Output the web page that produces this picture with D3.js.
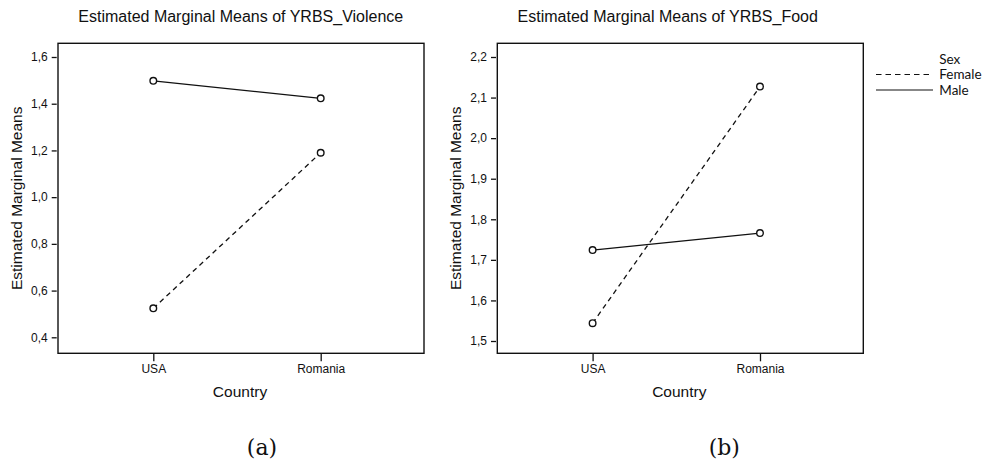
<!DOCTYPE html>
<html>
<head>
<meta charset="utf-8">
<script src="https://cdn.jsdelivr.net/npm/d3@7"></script>
<style>
  html, body { margin: 0; padding: 0; background: #fff; }
  svg { display: block; }
</style>
</head>
<body>
<svg id="chart" width="988" height="462"></svg>
<script>
// ---- data ----
const countries = ["USA", "Romania"];
const sexes = ["Female", "Male"];
const violenceFemale = [0.524, 1.190];
const violenceMale = [1.498, 1.423];
const foodFemale = [1.544, 2.127];
const foodMale = [1.724, 1.766];
const violenceTicks = [0.4, 0.6, 0.8, 1.0, 1.2, 1.4, 1.6];
const foodTicks = [1.5, 1.6, 1.7, 1.8, 1.9, 2.0, 2.1, 2.2];
const titles = ["Estimated Marginal Means of YRBS_Violence", "Estimated Marginal Means of YRBS_Food"];
const captions = ["(a)", "(b)"];
const yTitle = "Estimated Marginal Means";
const xTitle = "Country";
const legendTitle = "Sex";

const svg = d3.select("#chart");
const fmt = d => d3.format(".1f")(d).replace(".", ",");
const dashes = { Female: "5,4", Male: null };

function panel(opts) {
  const { left, title, caption, female, male, ticks, yDomain, yRange, captionX } = opts;
  const top = 43.3, bottom = 353.3, right = left + 366;
  const g = svg.append("g");
  const x = d3.scalePoint().domain(countries).range([left + 95.3, left + 262.7]);
  const y = d3.scaleLinear().domain(yDomain).range(yRange);

  // title
  g.append("text").attr("x", left + 20.3).attr("y", 22)
    .attr("font-family", "Liberation Sans, Arial, sans-serif").attr("font-size", 16)
    .attr("fill", "#111").text(title);

  // box
  g.append("rect").attr("x", left).attr("y", top).attr("width", right - left).attr("height", bottom - top)
    .attr("fill", "none").attr("stroke", "#111").attr("stroke-width", 1.4);

  // y axis
  const ya = g.append("g").attr("transform", `translate(${left - 1.3},0)`)
    .call(d3.axisLeft(y).tickValues(ticks).tickFormat(fmt).tickSize(5).tickPadding(4));
  ya.select(".domain").remove();
  ya.selectAll("line").attr("stroke", "#111").attr("stroke-width", 1.3);
  ya.selectAll("text").attr("font-family", "Liberation Sans, Arial, sans-serif").attr("font-size", 12).attr("fill", "#111");

  // x axis
  const xa = g.append("g").attr("transform", `translate(0,${bottom})`)
    .call(d3.axisBottom(x).tickSize(8).tickPadding(3));
  xa.select(".domain").remove();
  xa.selectAll("line").attr("stroke", "#111").attr("stroke-width", 1.3);
  xa.selectAll("text").attr("font-family", "Liberation Sans, Arial, sans-serif").attr("font-size", 12).attr("fill", "#111");

  // axis titles
  g.append("text").attr("x", left + 182).attr("y", 397)
    .attr("text-anchor", "middle").attr("font-family", "Liberation Sans, Arial, sans-serif")
    .attr("font-size", 15.5).attr("fill", "#111").text(xTitle);
  g.append("text").attr("transform", `translate(${left - 36.5},${(top + bottom) / 2}) rotate(-90)`)
    .attr("text-anchor", "middle").attr("font-family", "Liberation Sans, Arial, sans-serif")
    .attr("font-size", 15.5).attr("fill", "#111").text(yTitle);

  // lines + markers
  const line = d3.line().x((d, i) => x(countries[i])).y(d => y(d));
  const series = [["Female", female], ["Male", male]];
  series.forEach(([s, vals]) => {
    g.append("path").datum(vals).attr("d", line).attr("fill", "none")
      .attr("stroke", "#111").attr("stroke-width", 1.3)
      .attr("stroke-dasharray", dashes[s]);
  });
  series.forEach(([s, vals]) => {
    g.selectAll(null).data(vals).enter().append("circle")
      .attr("cx", (d, i) => x(countries[i])).attr("cy", d => y(d)).attr("r", 3.3)
      .attr("fill", "#fff").attr("stroke", "#111").attr("stroke-width", 1.4);
  });

  // caption
  svg.append("text").attr("x", captionX).attr("y", 455).attr("text-anchor", "middle")
    .attr("font-family", "DejaVu Serif, serif").attr("font-size", 22).attr("fill", "#111").text(caption);
}

panel({ left: 58, title: titles[0], caption: captions[0], female: violenceFemale, male: violenceMale,
  ticks: violenceTicks, yDomain: [0.4, 1.6], yRange: [337.3, 57], captionX: 262 });
panel({ left: 497.3, title: titles[1], caption: captions[1], female: foodFemale, male: foodMale,
  ticks: foodTicks, yDomain: [1.5, 2.2], yRange: [341, 57], captionX: 724.3 });

// legend
const lg = svg.append("g");
const lf = "Lato, 'Open Sans', sans-serif";
lg.append("text").attr("x", 939.3).attr("y", 63.5).attr("font-family", lf).attr("font-size", 13.5)
  .attr("fill", "#111").text(legendTitle);
const ly = d3.scalePoint().domain(sexes).range([74.5, 90]);
sexes.forEach(s => {
  lg.append("line").attr("x1", 876).attr("x2", 933).attr("y1", ly(s)).attr("y2", ly(s))
    .attr("stroke", "#111").attr("stroke-width", 1.2).attr("stroke-dasharray", dashes[s] ? "5.5,4" : null);
  lg.append("text").attr("x", 939.3).attr("y", ly(s) + 4.5).attr("font-family", lf).attr("font-size", 13.5)
    .attr("fill", "#111").text(s);
});
</script>
</body>
</html>
